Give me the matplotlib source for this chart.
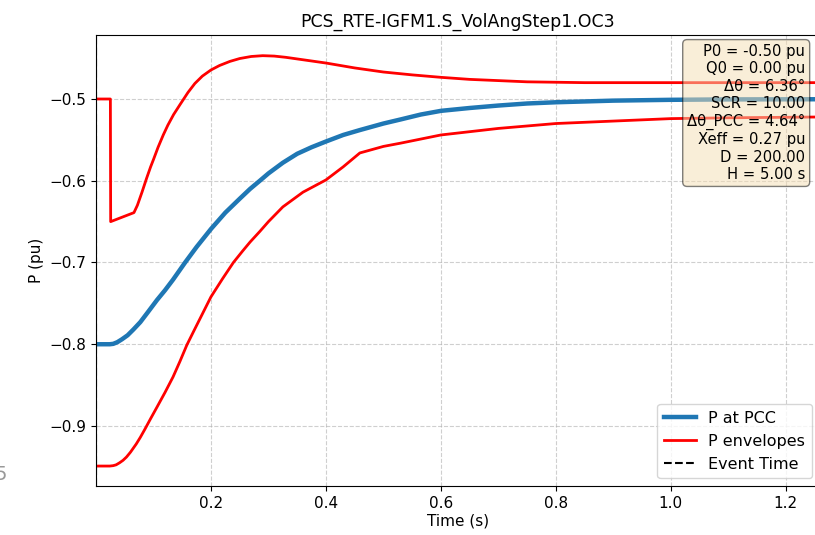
import matplotlib
matplotlib.use("Agg")
import matplotlib.pyplot as plt
from matplotlib.lines import Line2D

# P at PCC
t_pcc = [0.0, 0.024, 0.03, 0.037, 0.045, 0.055, 0.065, 0.077, 0.09, 0.106, 0.12, 0.134,
         0.155, 0.175, 0.2, 0.225, 0.25, 0.268, 0.285, 0.3, 0.325, 0.35, 0.375, 0.4, 0.43,
         0.459, 0.5, 0.53, 0.565, 0.6, 0.65, 0.7, 0.75, 0.8, 0.9, 1.0, 1.1, 1.26]
p_pcc = [-0.8, -0.8, -0.7995, -0.7975, -0.794, -0.789, -0.782, -0.773, -0.761, -0.746,
         -0.734, -0.721, -0.700, -0.681, -0.659, -0.639, -0.622, -0.610, -0.600, -0.591,
         -0.578, -0.567, -0.559, -0.552, -0.544, -0.538, -0.530, -0.525, -0.519, -0.5145,
         -0.511, -0.508, -0.5055, -0.504, -0.502, -0.501, -0.5005, -0.5003]

# upper envelope
t_up = [0.0, 0.025, 0.0255, 0.066, 0.072, 0.08, 0.088, 0.095, 0.1, 0.108, 0.117, 0.125,
        0.135, 0.146, 0.16, 0.172, 0.185, 0.2, 0.215, 0.233, 0.25, 0.27, 0.29, 0.31,
        0.33, 0.36, 0.4, 0.45, 0.5, 0.55, 0.6, 0.65, 0.7, 0.75, 0.8, 0.85, 1.0, 1.26]
p_up = [-0.5, -0.5, -0.650, -0.639, -0.630, -0.614, -0.597, -0.583, -0.574, -0.559,
        -0.544, -0.532, -0.519, -0.507, -0.492, -0.481, -0.472, -0.4645, -0.459, -0.454,
        -0.4505, -0.448, -0.447, -0.4475, -0.449, -0.452, -0.456, -0.462, -0.467, -0.4705,
        -0.4735, -0.476, -0.4775, -0.479, -0.4795, -0.480, -0.480, -0.480]

# lower envelope
t_lo = [0.0, 0.024, 0.03, 0.035, 0.041, 0.047, 0.053, 0.06, 0.07, 0.077, 0.085, 0.095,
        0.106, 0.12, 0.134, 0.146, 0.158, 0.17, 0.18, 0.19, 0.2, 0.22, 0.239, 0.255,
        0.268, 0.285, 0.3, 0.325, 0.36, 0.4, 0.43, 0.459, 0.5, 0.53, 0.565, 0.6, 0.65,
        0.7, 0.8, 0.9, 1.0, 1.1, 1.26]
p_lo = [-0.949, -0.949, -0.9485, -0.9475, -0.945, -0.942, -0.938, -0.932, -0.922, -0.914,
        -0.904, -0.891, -0.877, -0.859, -0.840, -0.821, -0.801, -0.784, -0.770, -0.756,
        -0.742, -0.720, -0.700, -0.686, -0.675, -0.662, -0.650, -0.632, -0.614, -0.599,
        -0.583, -0.566, -0.558, -0.554, -0.549, -0.544, -0.540, -0.536, -0.530, -0.527,
        -0.524, -0.523, -0.522]

event_time = 0.0

info_lines = ["P0 = -0.50 pu", "Q0 = 0.00 pu", "\u0394\u03b8 = 6.36\u00b0", "SCR = 10.00",
              "\u0394\u03b8_PCC = 4.64\u00b0", "Xeff = 0.27 pu", "D = 200.00", "H = 5.00 s"]

fig = plt.figure(figsize=(8.15, 5.35), dpi=100)
ax = fig.add_axes([0.1178, 0.0916, 0.888, 0.843])

ax.plot(t_pcc, p_pcc, color="#1f77b4", lw=3.2, label="P at PCC")
ax.plot(t_up, p_up, color="red", lw=2, label="P envelopes")
ax.plot(t_lo, p_lo, color="red", lw=2)
ax.axvline(event_time, color="black", ls="--", lw=1.5)

ax.set_xlim(0.0, 1.259)
ax.set_ylim(-0.9734, -0.4217)
ax.set_xticks([0.2, 0.4, 0.6, 0.8, 1.0, 1.2])
ax.set_yticks([-0.9, -0.8, -0.7, -0.6, -0.5])
ax.tick_params(labelsize=11)
ax.grid(True, linestyle="--", alpha=0.6)
ax.set_xlabel("Time (s)", fontsize=11, labelpad=2)
ax.set_ylabel("P (pu)", fontsize=11)
ax.set_title("PCS_RTE-IGFM1.S_VolAngStep1.OC3", fontsize=12.5, pad=6)

ax.text(0.98, 0.98, "\n".join(info_lines), transform=ax.transAxes, ha="right", va="top",
        fontsize=10.6, bbox=dict(boxstyle="round", facecolor="wheat", alpha=0.5))

handles = [Line2D([], [], color="#1f77b4", lw=3.2),
           Line2D([], [], color="red", lw=2),
           Line2D([], [], color="black", ls="--", lw=1.5)]
ax.legend(handles, ["P at PCC", "P envelopes", "Event Time"], loc="lower right", fontsize=11.5)

# cut-off label from a neighbouring panel at the left edge
fig.text(7 / 815, 1 - 475 / 535, "5", color="#999999", fontsize=14, ha="right", va="center")

fig.savefig("out.png", dpi=100)
